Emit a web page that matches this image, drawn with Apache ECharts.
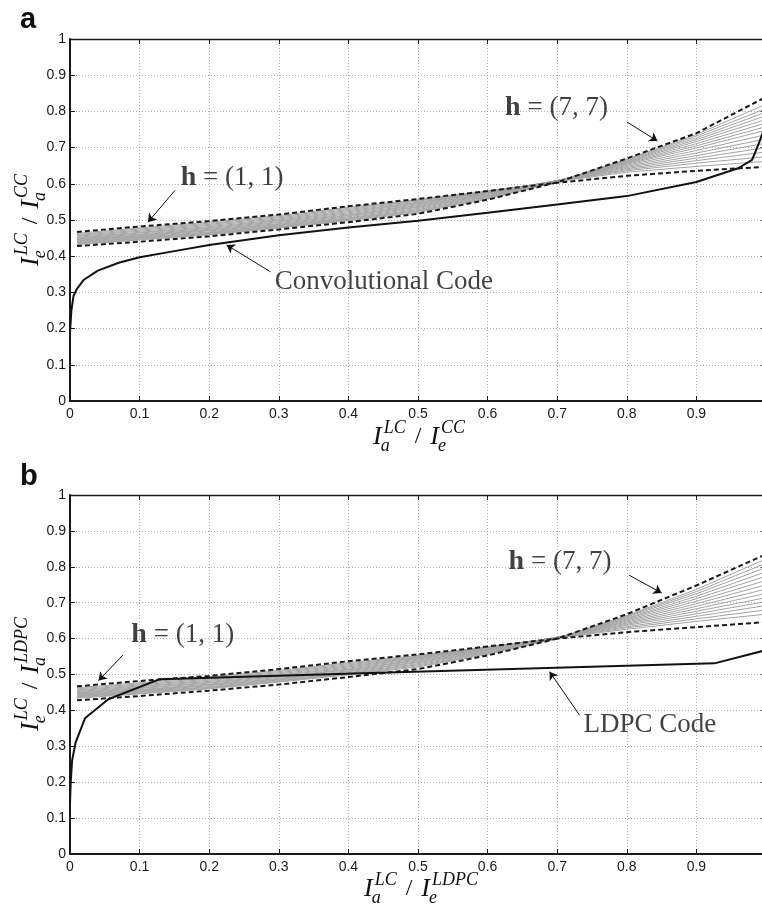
<!DOCTYPE html>
<html><head><meta charset="utf-8">
<script src="https://cdn.jsdelivr.net/npm/echarts@6/dist/echarts.min.js"></script>
<style>html,body{margin:0;padding:0;background:#fff;overflow:hidden}#c{width:762px;height:905px}</style>
</head><body><div id="c"></div>
<script>
// ---------- data ----------
const xTicks = [0, 0.1, 0.2, 0.3, 0.4, 0.5, 0.6, 0.7, 0.8, 0.9];
const curveX = [0.01, 0.1, 0.2, 0.3, 0.4, 0.5, 0.6, 0.7, 0.8, 0.9, 1.0];

// panel a
const h11A = [0.467,0.482,0.497,0.515,0.538,0.558,0.580,0.603,0.622,0.636,0.647];
const h77A = [0.428,0.440,0.455,0.474,0.494,0.517,0.556,0.604,0.670,0.740,0.840];
const grayA = [
  [0.463,0.478,0.494,0.512,0.535,0.556,0.580,0.606,0.632,0.648,0.662],
  [0.460,0.475,0.491,0.509,0.532,0.554,0.579,0.607,0.636,0.657,0.675],
  [0.457,0.472,0.488,0.506,0.529,0.552,0.578,0.607,0.639,0.664,0.688],
  [0.455,0.469,0.485,0.503,0.526,0.549,0.577,0.608,0.642,0.671,0.700],
  [0.452,0.466,0.482,0.500,0.523,0.547,0.576,0.608,0.645,0.678,0.712],
  [0.450,0.464,0.479,0.498,0.520,0.545,0.575,0.609,0.648,0.685,0.724],
  [0.448,0.461,0.477,0.495,0.517,0.542,0.573,0.609,0.651,0.692,0.736],
  [0.446,0.459,0.474,0.493,0.514,0.540,0.572,0.609,0.654,0.699,0.748],
  [0.444,0.457,0.472,0.490,0.512,0.537,0.570,0.609,0.656,0.705,0.758],
  [0.442,0.455,0.470,0.488,0.509,0.535,0.568,0.608,0.658,0.711,0.768],
  [0.440,0.453,0.467,0.486,0.506,0.532,0.566,0.608,0.660,0.717,0.778],
  [0.438,0.451,0.465,0.484,0.504,0.529,0.564,0.607,0.662,0.722,0.788],
  [0.436,0.449,0.463,0.482,0.502,0.526,0.562,0.607,0.664,0.727,0.798],
  [0.434,0.447,0.461,0.480,0.500,0.524,0.560,0.606,0.666,0.732,0.808],
  [0.432,0.445,0.459,0.478,0.498,0.521,0.558,0.605,0.668,0.736,0.820]
];
const convX = [0, 0.002, 0.005, 0.01, 0.02, 0.04, 0.07, 0.1, 0.15, 0.2, 0.3, 0.4, 0.5, 0.6, 0.7, 0.8, 0.9, 0.96, 0.98, 0.99, 0.997];
const convY = [0.19, 0.25, 0.29, 0.31, 0.335, 0.36, 0.382, 0.397, 0.414, 0.431, 0.458, 0.479, 0.498, 0.520, 0.543, 0.566, 0.605, 0.643, 0.666, 0.713, 0.75];

// panel b
const h11B = [0.467,0.482,0.496,0.515,0.537,0.556,0.578,0.600,0.618,0.632,0.646];
const h77B = [0.428,0.440,0.455,0.472,0.493,0.515,0.553,0.600,0.668,0.748,0.835];
const grayB = [
  [0.463,0.477,0.493,0.511,0.533,0.553,0.577,0.602,0.626,0.648,0.668],
  [0.460,0.474,0.490,0.508,0.530,0.551,0.576,0.602,0.630,0.655,0.680],
  [0.457,0.471,0.487,0.505,0.527,0.549,0.575,0.603,0.633,0.662,0.692],
  [0.455,0.468,0.484,0.502,0.524,0.547,0.574,0.603,0.637,0.669,0.703],
  [0.452,0.466,0.481,0.499,0.521,0.545,0.572,0.603,0.640,0.676,0.714],
  [0.450,0.463,0.478,0.497,0.518,0.543,0.571,0.604,0.643,0.683,0.726],
  [0.448,0.461,0.476,0.494,0.515,0.540,0.569,0.604,0.646,0.690,0.738],
  [0.446,0.458,0.473,0.492,0.513,0.538,0.568,0.603,0.649,0.697,0.750],
  [0.444,0.456,0.471,0.489,0.510,0.535,0.566,0.603,0.652,0.704,0.762],
  [0.442,0.454,0.469,0.487,0.508,0.533,0.564,0.602,0.655,0.711,0.774],
  [0.440,0.452,0.466,0.485,0.505,0.530,0.562,0.602,0.657,0.718,0.786],
  [0.438,0.450,0.464,0.483,0.503,0.527,0.560,0.601,0.660,0.725,0.798],
  [0.436,0.448,0.462,0.481,0.501,0.524,0.558,0.601,0.662,0.731,0.810],
  [0.434,0.446,0.460,0.479,0.499,0.521,0.556,0.600,0.664,0.737,0.822]
];
const ldpcX = [0, 0.001, 0.003, 0.008, 0.0215, 0.055, 0.129, 0.445, 0.926, 1.0];
const ldpcY = [0.14, 0.20, 0.26, 0.31, 0.378, 0.431, 0.487, 0.505, 0.531, 0.568];

// annotations (data coordinates)
const annA = [
  {text: '{hb|h}{t| = (1, 1)}', at: [0.233, 0.616], arrow: [[0.151, 0.582], [0.112, 0.494]]},
  {text: '{hb|h}{t| = (7, 7)}', at: [0.699, 0.809], arrow: [[0.80, 0.771], [0.844, 0.718]]},
  {text: '{t|Convolutional Code}', at: [0.451, 0.329], arrow: [[0.288, 0.357], [0.225, 0.431]]}
];
const annB = [
  {text: '{hb|h}{t| = (1, 1)}', at: [0.162, 0.61], arrow: [[0.076, 0.554], [0.041, 0.483]]},
  {text: '{hb|h}{t| = (7, 7)}', at: [0.704, 0.813], arrow: [[0.803, 0.777], [0.85, 0.727]]},
  {text: '{t|LDPC Code}', at: [0.833, 0.359], arrow: [[0.732, 0.387], [0.689, 0.508]]}
];

// ---------- chart ----------
const INK = '#1a1a1a';
const pairs = (xs, ys) => xs.map((x, i) => [x, ys[i]]);
const grids = [
  {left: 70, top: 39, width: 696, height: 362, containLabel: false, outerBoundsMode: 'none'},
  {left: 70, top: 495, width: 696, height: 359, containLabel: false, outerBoundsMode: 'none'}
];
function xAx(g, top) {
  return {
    type: 'value', gridIndex: g, min: 0, max: 1, interval: 0.1,
    position: top ? 'top' : 'bottom',
    axisLine: {show: true, onZero: false, lineStyle: {color: INK, width: top ? 1.3 : 2}},
    axisTick: {show: true, inside: true, length: 5, lineStyle: {color: INK, width: 1}},
    axisLabel: {show: !top, color: INK, fontSize: 14, fontFamily: 'Liberation Sans', margin: 6,
      formatter: v => (v >= 0.999 ? '' : String(Math.round(v * 10) / 10))},
    splitLine: {show: !top, lineStyle: {type: [1, 2], color: '#b0b0b0', width: 1}}
  };
}
function yAx(g, right) {
  return {
    type: 'value', gridIndex: g, min: 0, max: 1, interval: 0.1,
    position: right ? 'right' : 'left',
    axisLine: {show: true, onZero: false, lineStyle: {color: INK, width: right ? 1.3 : 2}},
    axisTick: {show: true, inside: true, length: 5, lineStyle: {color: INK, width: 1}},
    axisLabel: {show: !right, color: INK, fontSize: 14, fontFamily: 'Liberation Sans', margin: 4,
      formatter: v => String(Math.round(v * 10) / 10)},
    splitLine: {show: !right, lineStyle: {type: [1, 2], color: '#b0b0b0', width: 1}}
  };
}
const series = [];
function addPanel(g, grays, h11, h77, solidX, solidY, ann) {
  const xi = g * 2, yi = g * 2;
  grays.forEach(ys => series.push({type: 'line', xAxisIndex: xi, yAxisIndex: yi, data: pairs(curveX, ys),
    showSymbol: false, silent: true, lineStyle: {color: '#a3a3a3', width: 1}, z: 2}));
  [h11, h77].forEach(ys => series.push({type: 'line', xAxisIndex: xi, yAxisIndex: yi, data: pairs(curveX, ys),
    showSymbol: false, silent: true, lineStyle: {color: INK, width: 2, type: [5, 3]}, z: 3}));
  series.push({type: 'line', xAxisIndex: xi, yAxisIndex: yi, data: pairs(solidX, solidY),
    showSymbol: false, silent: true, lineStyle: {color: '#111', width: 2}, z: 4});
  series.push({type: 'lines', coordinateSystem: 'cartesian2d', xAxisIndex: xi, yAxisIndex: yi,
    data: ann.map(a => ({coords: a.arrow})), symbol: ['none', 'arrow'], symbolSize: 8,
    lineStyle: {color: '#111', width: 1, opacity: 1}, silent: true, z: 5});
  series.push({type: 'scatter', xAxisIndex: xi, yAxisIndex: yi, symbolSize: 0.1,
    itemStyle: {color: 'rgba(0,0,0,0)'}, silent: true, z: 6,
    data: ann.map(a => ({value: a.at, label: {formatter: a.text}})),
    label: {show: true, position: 'inside', color: '#111',
      rich: {hb: {fontFamily: 'Liberation Serif', fontWeight: 'bold', fontSize: 28, color: '#111'},
             t: {fontFamily: 'Liberation Serif', fontSize: 27, color: '#111'}}}});
}
addPanel(0, grayA, h11A, h77A, convX, convY, annA);
addPanel(1, grayB, h11B, h77B, ldpcX, ldpcY, annB);

// math axis titles
const mctx = document.createElement('canvas').getContext('2d');
const tw = (t, f) => { mctx.font = f; return mctx.measureText(t).width; };
const BIG = 'italic 26px "Liberation Serif"', SMALL = 'italic 18px "Liberation Serif"', SLASH = '24px "Liberation Serif"';
function txt(t, x, y, font) {
  return {type: 'text', x: x, y: y, style: {text: t, font: font, fill: '#111',
    align: 'left', verticalAlign: 'middle', textAlign: 'left', textVerticalAlign: 'middle'}};
}
function mathLabel(parts, cx, cy, rot) {
  const kids = []; let x = 0;
  parts.forEach((p, i) => {
    if (p.base) {
      kids.push(txt(p.base, x, 0, BIG));
      const bw = tw(p.base, BIG) + 1;
      kids.push(txt(p.sup, x + bw + 1, -9, SMALL));
      kids.push(txt(p.sub, x + bw - 2, 9, SMALL));
      x += bw + Math.max(tw(p.sup, SMALL) + 1, tw(p.sub, SMALL) - 2);
    } else {
      x += 9;
      kids.push(txt(p.text, x, 0, SLASH));
      x += tw(p.text, SLASH) + 9;
    }
  });
  kids.forEach(k => { k.x -= x / 2; });
  return {type: 'group', x: cx, y: cy, rotation: rot || 0, children: kids, silent: true};
}
const graphics = [
  {type: 'text', x: 20, y: 20, style: {text: 'a', font: 'bold 29px "Liberation Sans"', fill: '#111',
    align: 'left', verticalAlign: 'middle', textAlign: 'left', textVerticalAlign: 'middle'}},
  {type: 'text', x: 20, y: 477, style: {text: 'b', font: 'bold 29px "Liberation Sans"', fill: '#111',
    align: 'left', verticalAlign: 'middle', textAlign: 'left', textVerticalAlign: 'middle'}},
  mathLabel([{base: 'I', sup: 'LC', sub: 'a'}, {text: '/'}, {base: 'I', sup: 'CC', sub: 'e'}], 419, 437, 0),
  mathLabel([{base: 'I', sup: 'LC', sub: 'e'}, {text: '/'}, {base: 'I', sup: 'CC', sub: 'a'}], 31, 220, Math.PI / 2),
  mathLabel([{base: 'I', sup: 'LC', sub: 'a'}, {text: '/'}, {base: 'I', sup: 'LDPC', sub: 'e'}], 421, 889, 0),
  mathLabel([{base: 'I', sup: 'LC', sub: 'e'}, {text: '/'}, {base: 'I', sup: 'LDPC', sub: 'a'}], 31, 674, Math.PI / 2)
];

const chart = echarts.init(document.getElementById('c'), null, {renderer: 'canvas'});
chart.setOption({
  animation: false,
  backgroundColor: '#fff',
  grid: grids,
  xAxis: [xAx(0, false), xAx(0, true), xAx(1, false), xAx(1, true)],
  yAxis: [yAx(0, false), yAx(0, true), yAx(1, false), yAx(1, true)],
  series: series,
  graphic: graphics
});
</script></body></html>
